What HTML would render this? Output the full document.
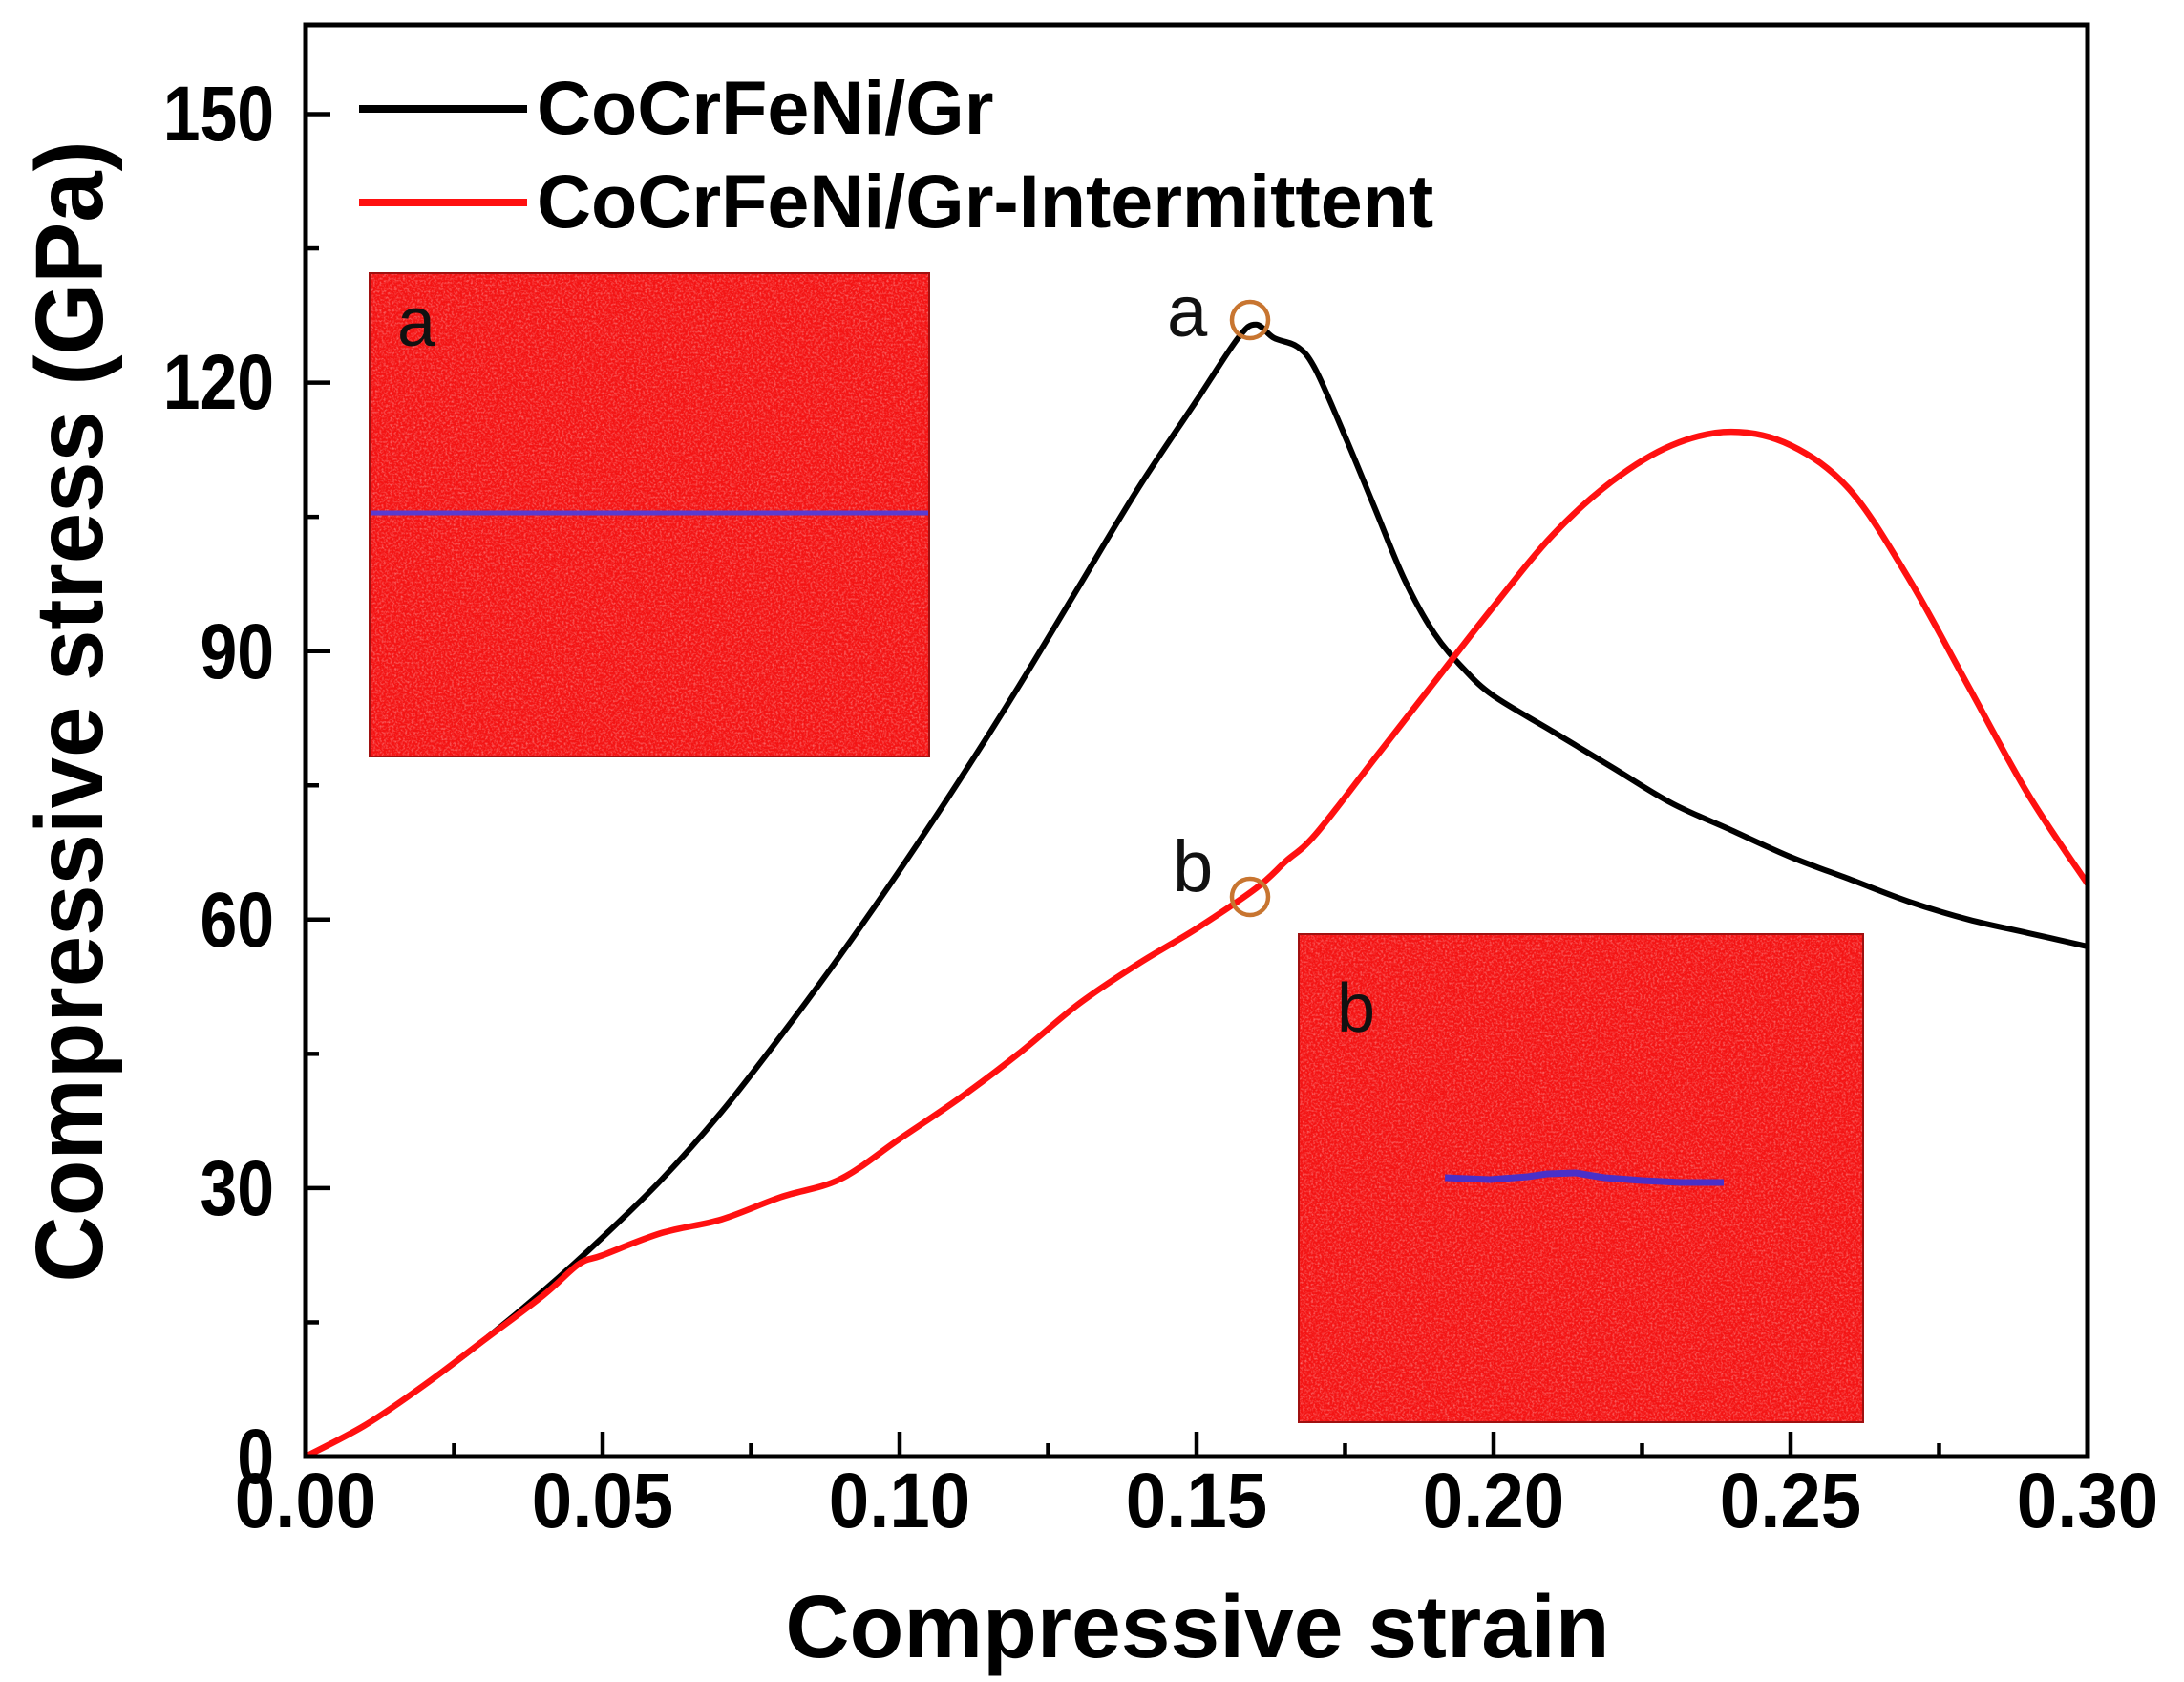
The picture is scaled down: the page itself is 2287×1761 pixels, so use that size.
<!DOCTYPE html>
<html><head><meta charset="utf-8"><style>
html,body{margin:0;padding:0;background:#fff;}
svg{display:block;}
</style></head><body>
<svg id="s" width="2287" height="1761" viewBox="0 0 2287 1761" xmlns="http://www.w3.org/2000/svg" font-family="Liberation Sans, Arial, sans-serif">
<defs>
<filter id="noise" x="0" y="0" width="100%" height="100%">
<feTurbulence type="fractalNoise" baseFrequency="0.45" numOctaves="2" seed="3" result="t"/>
<feColorMatrix in="t" type="matrix" values="0 0 0 0 1  0 0 0 0 0.55  0 0 0 0 0.55  0 0 0 -2.2 1.25" result="c"/>
<feComposite in="c" in2="SourceGraphic" operator="in"/>
</filter>
</defs>
<rect x="387" y="286" width="586" height="506" fill="#f41414"/>
<rect x="387" y="286" width="586" height="506" fill="#f41414" filter="url(#noise)" opacity="0.5"/>
<rect x="387" y="286" width="586" height="506" fill="none" stroke="#a01010" stroke-width="2"/>
<line x1="388" y1="537" x2="972" y2="537" stroke="#5a3bd0" stroke-width="5"/>
<text x="416" y="362" font-size="72" fill="#111">a</text>
<rect x="1360" y="978" width="591" height="511" fill="#f41414"/>
<rect x="1360" y="978" width="591" height="511" fill="#f41414" filter="url(#noise)" opacity="0.5"/>
<rect x="1360" y="978" width="591" height="511" fill="none" stroke="#a01010" stroke-width="2"/>
<path d="M1513 1233 L1560 1235 L1600 1232 L1620 1229 L1650 1228 L1680 1233 L1720 1236 L1760 1238 L1805 1238" fill="none" stroke="#4a30c8" stroke-width="7"/>
<text x="1400" y="1080" font-size="72" fill="#111">b</text>
<path id="blk" fill="none" stroke="#000" stroke-width="6" stroke-linejoin="round"/>
<path id="red" fill="none" stroke="#ff1010" stroke-width="6.5" stroke-linejoin="round"/>
<circle cx="1309" cy="335" r="19" fill="none" stroke="#c87530" stroke-width="4.5"/>
<circle cx="1309" cy="939" r="19" fill="none" stroke="#c87530" stroke-width="4.5"/>
<text x="1222" y="352" font-size="76" fill="#111">a</text>
<text x="1228" y="933" font-size="76" fill="#111">b</text>
<rect x="320" y="26" width="1866" height="1499" fill="none" stroke="#000" stroke-width="5"/>
<g id="ticks" stroke="#000" stroke-width="4.5"></g>
<line x1="376" y1="114" x2="552" y2="114" stroke="#000" stroke-width="8"/>
<line x1="376" y1="212" x2="552" y2="212" stroke="#ff1010" stroke-width="8"/>
<g font-weight="bold" font-size="79" fill="#000">
<text x="562" y="140">CoCrFeNi/Gr</text>
<text x="562" y="238">CoCrFeNi/Gr-Intermittent</text>
</g>
<g font-weight="bold" font-size="82" text-anchor="end" fill="#000">
<text x="287" y="1553" transform="translate(287 0) scale(0.85 1) translate(-287 0)">0</text>
<text x="287" y="1272" transform="translate(287 0) scale(0.85 1) translate(-287 0)">30</text>
<text x="287" y="991" transform="translate(287 0) scale(0.85 1) translate(-287 0)">60</text>
<text x="287" y="710" transform="translate(287 0) scale(0.85 1) translate(-287 0)">90</text>
<text x="287" y="428" transform="translate(287 0) scale(0.85 1) translate(-287 0)">120</text>
<text x="287" y="147" transform="translate(287 0) scale(0.85 1) translate(-287 0)">150</text>
</g>
<g font-weight="bold" font-size="82" text-anchor="middle" fill="#000">
<text x="320" y="1599" transform="translate(320 0) scale(0.93 1) translate(-320 0)">0.00</text>
<text x="631" y="1599" transform="translate(631 0) scale(0.93 1) translate(-631 0)">0.05</text>
<text x="942" y="1599" transform="translate(942 0) scale(0.93 1) translate(-942 0)">0.10</text>
<text x="1253" y="1599" transform="translate(1253 0) scale(0.93 1) translate(-1253 0)">0.15</text>
<text x="1564" y="1599" transform="translate(1564 0) scale(0.93 1) translate(-1564 0)">0.20</text>
<text x="1875" y="1599" transform="translate(1875 0) scale(0.93 1) translate(-1875 0)">0.25</text>
<text x="2186" y="1599" transform="translate(2186 0) scale(0.93 1) translate(-2186 0)">0.30</text>
</g>
<text x="1254" y="1735" font-weight="bold" font-size="93" text-anchor="middle">Compressive strain</text>
<text transform="translate(107 745) rotate(-90) scale(0.96 1)" font-weight="bold" font-size="100" text-anchor="middle">Compressive stress (GPa)</text>
</svg>
<script>
function X(s){return 320+s*6220;}
function Y(v){return 1525-v*9.37;}
function path(pts){
  var p=pts.map(function(a){return [X(a[0]),Y(a[1])];});
  var d="M"+p[0][0].toFixed(1)+" "+p[0][1].toFixed(1);
  for(var i=0;i<p.length-1;i++){
    var p0=p[i-1]||p[i],p1=p[i],p2=p[i+1],p3=p[i+2]||p2;
    var c1=[p1[0]+(p2[0]-p0[0])/6,p1[1]+(p2[1]-p0[1])/6];
    var c2=[p2[0]-(p3[0]-p1[0])/6,p2[1]-(p3[1]-p1[1])/6];
    d+=" C"+c1[0].toFixed(1)+" "+c1[1].toFixed(1)+" "+c2[0].toFixed(1)+" "+c2[1].toFixed(1)+" "+p2[0].toFixed(1)+" "+p2[1].toFixed(1);
  }
  return d;
}
var blk=[[0,0],[0.01,3.5],[0.02,8],[0.03,13],[0.04,18.5],[0.05,24.5],[0.06,31],[0.07,38.5],[0.08,47],[0.09,56],[0.10,65.5],[0.11,75.5],[0.12,86],[0.13,97],[0.14,108],[0.15,118],[0.157,125],[0.16,126.5],[0.163,125],[0.167,124],[0.17,121.5],[0.175,114],[0.18,106],[0.185,98],[0.19,92],[0.195,88],[0.2,85],[0.21,81],[0.22,77],[0.23,73],[0.24,70],[0.25,67],[0.26,64.5],[0.27,62],[0.28,60],[0.29,58.5],[0.3,57]];
var red=[[0,0],[0.01,3.5],[0.02,8],[0.03,13],[0.04,18],[0.046,21.5],[0.05,22.5],[0.06,25],[0.07,26.5],[0.08,29],[0.09,31],[0.1,35.5],[0.11,40],[0.12,45],[0.13,50.5],[0.14,55],[0.15,59],[0.16,63.5],[0.165,66.5],[0.17,69.5],[0.18,78],[0.19,86.5],[0.2,95],[0.21,103],[0.22,109],[0.23,113],[0.24,114.5],[0.25,113],[0.26,108],[0.27,98],[0.28,86],[0.29,74],[0.3,64]];
document.getElementById("blk").setAttribute("d",path(blk));
document.getElementById("red").setAttribute("d",path(red));
var g=document.getElementById("ticks"),h="";
for(var v=15;v<160;v+=15){var L=(v%30==0)?26:14;h+='<line x1="320" y1="'+Y(v)+'" x2="'+(320+L)+'" y2="'+Y(v)+'"/>';}
for(var i=1;i<12;i++){var s=i*0.025;var L=(i%2==0)?26:14;h+='<line x1="'+X(s)+'" y1="1525" x2="'+X(s)+'" y2="'+(1525-L)+'"/>';}
g.innerHTML=h;
</script>
</body></html>
